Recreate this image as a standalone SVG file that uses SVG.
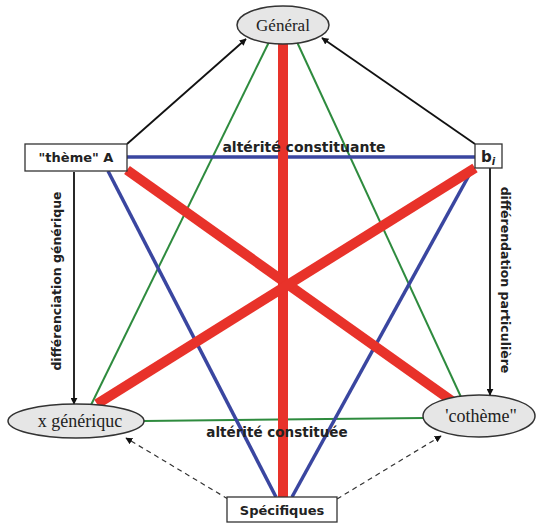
<svg xmlns="http://www.w3.org/2000/svg" width="536" height="523" viewBox="0 0 536 523">
<defs>
<marker id="ah" viewBox="0 0 10 10" refX="9" refY="5" markerWidth="7" markerHeight="7" orient="auto" markerUnits="userSpaceOnUse">
<path d="M0,0 L10,5 L0,10 z" fill="#111"/>
</marker>
<style>
.ell{fill:#e6e6e6;stroke:#333;stroke-width:1.5}
.box{fill:#fff;stroke:#333;stroke-width:1.3}
.serif{font-family:"Liberation Serif",serif;font-size:18px;fill:#222}
.sans{font-family:"DejaVu Sans",sans-serif;font-weight:bold;font-size:13px;fill:#222}
.red{stroke:#e8322a;stroke-width:10;stroke-linecap:butt}
.blue{stroke:#3a46a0;stroke-width:3.5}
.green{stroke:#2e8b3e;stroke-width:2}
.blk{stroke:#111;stroke-width:1.8;fill:none}
.dash{stroke:#333;stroke-width:1.2;stroke-dasharray:5,4;fill:none}
</style>
</defs>
<rect width="536" height="523" fill="#fff"/>
<g id="connectors">
<line class="green" x1="269" y1="42" x2="91" y2="405"/>
<line class="green" x1="297" y1="42" x2="461" y2="397"/>
<line class="green" x1="144" y1="421" x2="424" y2="418"/>
<line class="blue" x1="127" y1="157" x2="475" y2="157"/>
<line class="blue" x1="108" y1="171" x2="276" y2="497"/>
<line class="blue" x1="473" y1="168" x2="292" y2="497"/>
<line class="red" x1="283" y1="44" x2="283" y2="497"/>
<line class="red" x1="127" y1="170" x2="452" y2="401"/>
<line class="red" x1="475" y1="168" x2="97" y2="404"/>
<line class="blk" x1="127" y1="144" x2="246" y2="39" marker-end="url(#ah)"/>
<line class="blk" x1="475" y1="144" x2="322" y2="38" marker-end="url(#ah)"/>
<line class="blk" x1="74" y1="172" x2="74" y2="404" marker-end="url(#ah)"/>
<line class="blk" x1="490" y1="168" x2="490" y2="395" marker-end="url(#ah)"/>
<line class="dash" x1="228" y1="499" x2="126" y2="438" marker-end="url(#ah)"/>
<line class="dash" x1="337" y1="499" x2="441" y2="436" marker-end="url(#ah)"/>
<text class="sans" x="304" y="152" text-anchor="middle" style="font-size:14px">altérité constituante</text>
<text class="sans" x="277" y="437" text-anchor="middle" style="font-size:13.5px">altérité constituée</text>
<text class="sans" transform="translate(61,281) rotate(-90)" text-anchor="middle" style="font-size:12.5px">différenciation générique</text>
<text class="sans" transform="translate(501,280) rotate(90)" text-anchor="middle" style="font-size:12.5px">différendation particulière</text>
</g>
<g id="general">
<ellipse class="ell" cx="283" cy="25" rx="46" ry="19"/>
<text class="serif" x="283" y="31" text-anchor="middle" style="font-size:17px">Général</text>
</g>
<g id="theme-a">
<rect class="box" x="25" y="144" width="102" height="27"/>
<text class="sans" x="76" y="162" text-anchor="middle">"thème" A</text>
</g>
<g id="bi">
<rect class="box" x="475" y="144" width="27" height="24"/>
<text class="sans" x="481" y="162" style="font-size:15px">b<tspan style="font-size:10px;font-style:italic" dy="3">i</tspan></text>
</g>
<g id="x-generique">
<ellipse class="ell" cx="76" cy="421" rx="68" ry="17"/>
<text class="serif" x="80" y="427" text-anchor="middle">x génériquc</text>
</g>
<g id="cotheme">
<ellipse class="ell" cx="479" cy="416" rx="56" ry="21"/>
<text class="serif" x="481" y="422" text-anchor="middle">'cothème"</text>
</g>
<g id="specifiques">
<rect class="box" x="227" y="497" width="110" height="25"/>
<text class="sans" x="282" y="515" text-anchor="middle">Spécifiques</text>
</g>
</svg>
